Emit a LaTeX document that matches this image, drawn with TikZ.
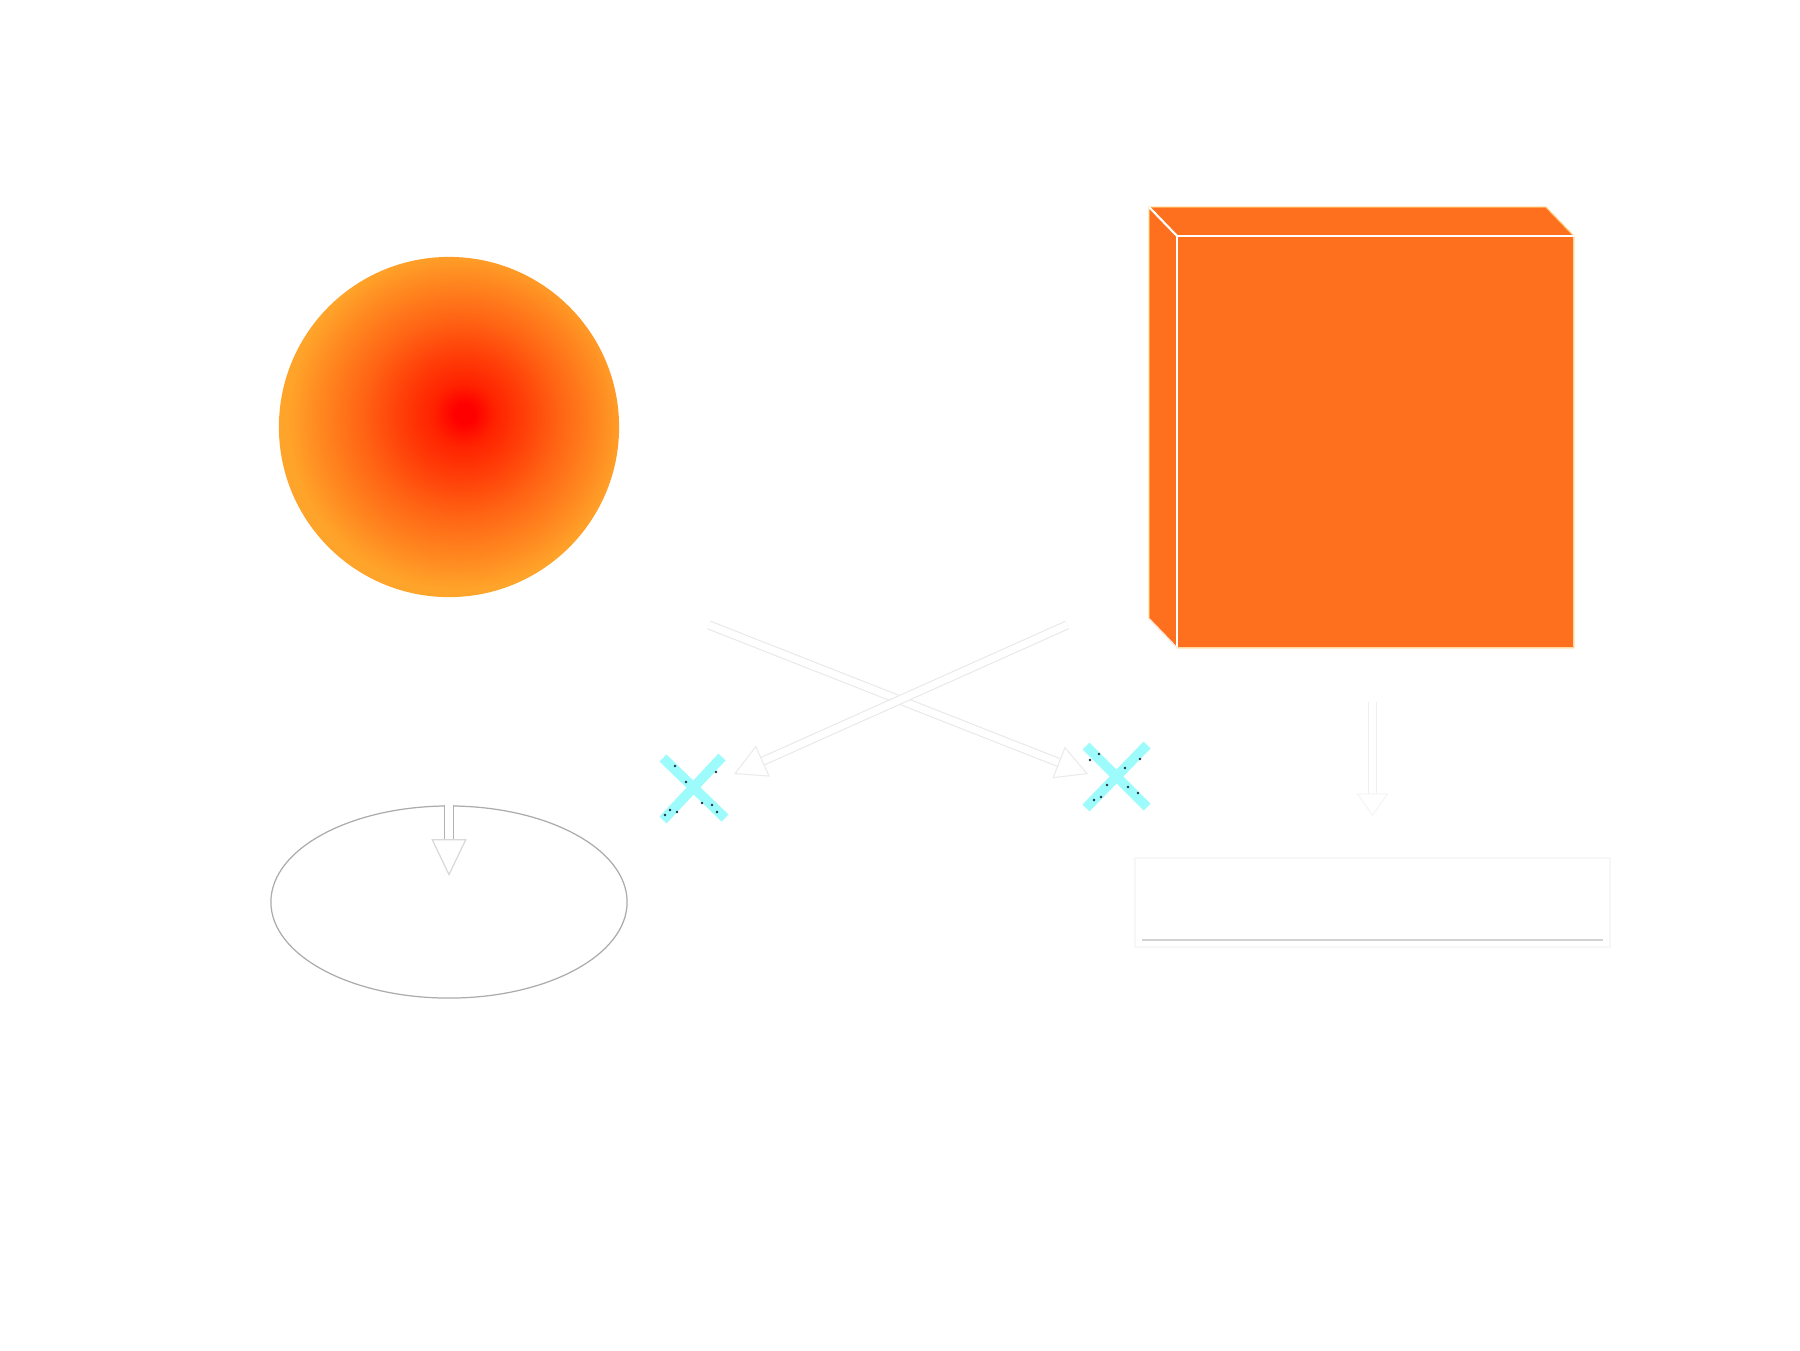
\documentclass[tikz,border=0pt]{standalone}
\usetikzlibrary{shapes.geometric,arrows.meta}
\definecolor{cubeor}{HTML}{FF701E}
\definecolor{cubeedge}{HTML}{FFC46A}
\definecolor{xcyan}{HTML}{9EFBFB}
\definecolor{xdot}{HTML}{1E3442}
\definecolor{bs0}{HTML}{FF0000}
\definecolor{bs1}{HTML}{FF2200}
\definecolor{bs2}{HTML}{FF3E08}
\definecolor{bs3}{HTML}{FF6414}
\definecolor{bs4}{HTML}{FF8820}
\definecolor{bs5}{HTML}{FFA42A}
\pgfdeclareradialshading{ballshade}{\pgfpoint{2.35bp}{2.05bp}}{color(0bp)=(bs0); color(1.5bp)=(bs0); color(4.5bp)=(bs1); color(9bp)=(bs2); color(14.5bp)=(bs3); color(20.5bp)=(bs4); color(25bp)=(bs5); color(50bp)=(bs5)}
\begin{document}
\begin{tikzpicture}[x=0.01cm,y=-0.01cm,
  ballstyle/.style={circle, minimum size=3.4cm, inner sep=0pt, shade, shading=ballshade},
  ellstyle/.style={ellipse, minimum width=3.56cm, minimum height=1.92cm, inner sep=0pt, draw=gray!65, line width=0.35pt},
  frontface/.style={rectangle, minimum width=3.95cm, minimum height=4.1cm, inner sep=0pt, fill=cubeor},
  boxstyle/.style={rectangle, minimum width=4.75cm, minimum height=0.89cm, inner sep=0pt, draw=gray!6, line width=0.4pt},
  dblarrow/.style={draw=gray!18, double=white, double distance=2pt, line width=0.3pt, -{Triangle[open, length=9pt, width=9.6pt, color=gray!16]}},
  darkarrow/.style={draw=gray!60, double=white, double distance=2.2pt, line width=0.35pt, -{Triangle[open, length=10.5pt, width=10pt, color=gray!30]}},
  faintarrow/.style={draw=gray!12, double=white, double distance=2.2pt, line width=0.3pt, -{Triangle[open, length=6.5pt, width=9pt, color=gray!8]}},
  xstroke/.style={draw=xcyan, line width=2.8pt},
  xspeck/.style={fill=xdot}
]
\useasboundingbox[fill=white] (0,0) rectangle (1800,1350);

% ball
\node[ballstyle] (ball) at (449,427) {};

% ellipse and its arrow
\node[ellstyle] (ell) at (449,902) {};
\coordinate (ellin) at (449,876);
\draw[darkarrow] (ell.north) -- (ellin);

% cube
\node[frontface] (cube) at (1375.5,442) {};
\fill[cubeor] (cube.north west) -- ([shift={(-28,-29)}]cube.north west) -- ([shift={(-28,-29)}]cube.north east) -- (cube.north east) -- cycle;
\fill[cubeor] (cube.north west) -- ([shift={(-28,-29)}]cube.north west) -- ([shift={(-28,-29)}]cube.south west) -- (cube.south west) -- cycle;
\draw[cubeedge, line width=0.3pt] ([shift={(-28,-29)}]cube.south west) -- ([shift={(-28,-29)}]cube.north west) -- ([shift={(-28,-29)}]cube.north east) -- (cube.north east) -- (cube.south east) -- (cube.south west);
\draw[white, line width=0.6pt] (cube.south west) -- (cube.north west) -- (cube.north east);
\draw[white, line width=0.6pt] (cube.north west) -- ([shift={(-28,-29)}]cube.north west);
\draw[white!85!cubeor, line width=0.4pt] (cube.south west) -- ([shift={(-28,-29)}]cube.south west);

% box below cube and its arrow
\node[boxstyle] (box) at (1372.5,902.5) {};
\draw[gray!35, line width=0.45pt] ([shift={(8,-8)}]box.south west) -- ([shift={(-8,-8)}]box.south east);
\draw[faintarrow] ([shift={(0,-155)}]box.north) -- ([shift={(0,-41)}]box.north);

% X marks
\coordinate (xl) at (692,789);
\coordinate (xr) at (1116,777);
\draw[xstroke] ([shift={(-29,-31)}]xl) -- ([shift={(33,29)}]xl);
\draw[xstroke] ([shift={(30,-32)}]xl) -- ([shift={(-29,31)}]xl);
\draw[xstroke] ([shift={(-30,-31)}]xr) -- ([shift={(31,30)}]xr);
\draw[xstroke] ([shift={(31,-32)}]xr) -- ([shift={(-30,31)}]xr);
\foreach \p in {(675,766),(716,772),(686,782),(702,803),(670,810),(712,805),(717,812),(677,812),(665,815)}
  \fill[xspeck] \p circle (1.3);
\foreach \p in {(1099,754),(1140,759),(1125,768),(1107,785),(1101,797),(1128,787),(1138,793),(1094,800),(1090,760)}
  \fill[xspeck] \p circle (1.3);

% crossing arrows
\coordinate (a1) at (709,625);
\coordinate (a2) at (1088,774);
\coordinate (b1) at (1067,625);
\coordinate (b2) at (734,774);
\draw[dblarrow] (a1) -- (a2);
\draw[dblarrow] (b1) -- (b2);
\end{tikzpicture}
\end{document}
